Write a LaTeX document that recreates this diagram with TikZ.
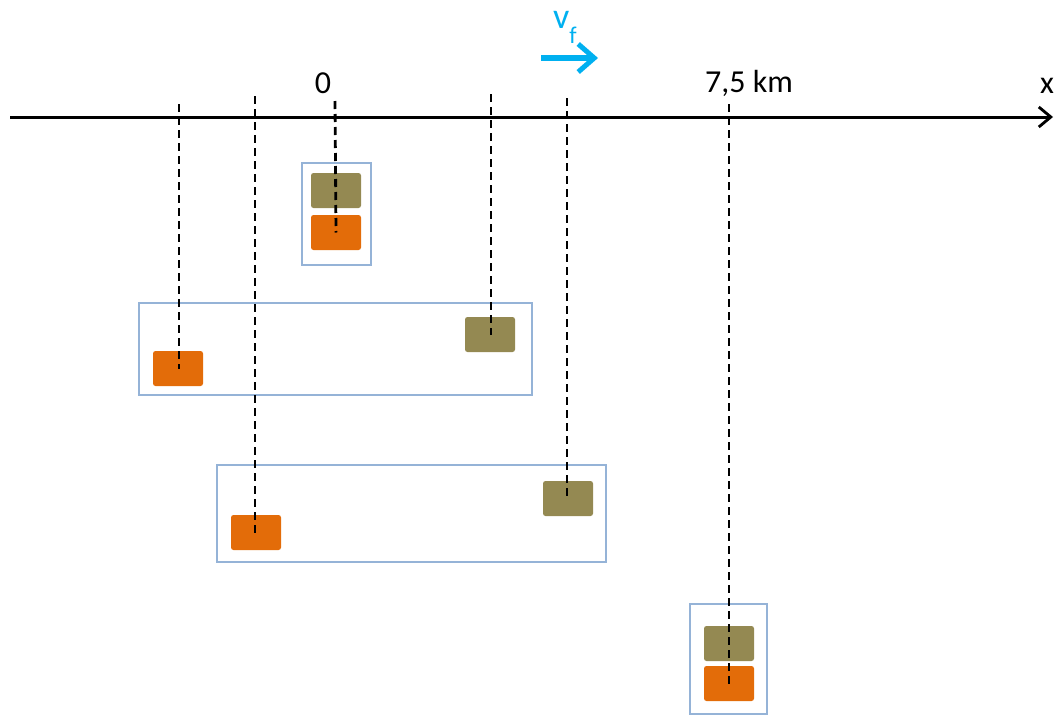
\documentclass[tikz,border=0pt]{standalone}
\usepackage{fontspec}
\setmainfont{Carlito}
\usetikzlibrary{arrows.meta}
\definecolor{olivebox}{RGB}{148,137,82}
\definecolor{orangebox}{RGB}{227,108,9}
\definecolor{groupblue}{RGB}{149,179,215}
\definecolor{vcyan}{RGB}{0,176,240}
\tikzset{
  car/.style={minimum width=50pt,minimum height=35pt,rounded corners=2.5pt,inner sep=0pt,draw=none},
  olivecar/.style={car,fill=olivebox},
  orangecar/.style={car,fill=orangebox},
  group/.style={draw=groupblue,line width=2.5pt,inner sep=0pt},
  proj/.style={black,line width=2.8pt,dash pattern=on 8pt off 5pt},
  lbl/.style={font=\fontsize{32}{36}\selectfont,inner sep=0pt}
}
\begin{document}
\begin{tikzpicture}[x=1pt,y=-1pt]
\useasboundingbox (0,0) rectangle (1054,715);
% groups
\node[group,minimum width=69pt,minimum height=102pt] (gA) at (336.5,214) {};
\node[group,minimum width=393pt,minimum height=92pt] (gB) at (335.5,349) {};
\node[group,minimum width=389pt,minimum height=97pt] (gC) at (411.5,513.5) {};
\node[group,minimum width=77pt,minimum height=110pt] (gD) at (728.5,659) {};
% cars
\node[olivecar] (a1) at (336,190.5) {};
\node[orangecar] (a2) at (336,232.5) {};
\node[orangecar] (b1) at (178,368.5) {};
\node[olivecar] (b2) at (490,334.5) {};
\node[orangecar] (c1) at (256,532.5) {};
\node[olivecar] (c2) at (568,498.5) {};
\node[olivecar] (d1) at (729,643.5) {};
\node[orangecar] (d2) at (729,683.5) {};
% axis
\coordinate (xs) at (10,117);
\coordinate (xe) at (1053,117);
\draw[line width=3pt,-{Straight Barb[length=12pt,width=20pt,line width=2.8pt]}] (xs) -- (xe);
\node[lbl] (xl) at (1047,86) {x};
\node[lbl] (zero) at (323,83) {0};
\node[lbl] (km) at (749,83) {7,5 km};
% velocity
\coordinate (vs) at (541,58);
\coordinate (ve) at (598,58);
\draw[vcyan,line width=5.5pt,-{Straight Barb[length=16pt,width=28pt,line width=5pt]}] (vs) -- (ve);
\node[text=vcyan,inner sep=0pt,anchor=base west,font=\fontsize{36}{40}\selectfont] (vf) at (553,28) {v\raisebox{-0.42em}{\fontsize{24}{26}\selectfont f}};
% projection lines
\coordinate (p1) at (335,101);
\coordinate (p2) at (179,104);
\coordinate (p3) at (491,94);
\coordinate (p4) at (255,96);
\coordinate (p5) at (567,98);
\coordinate (p6) at (729,104);
\draw[proj] (p1) -- (a2.center);
\draw[proj] (p2) -- (b1.center -| p2);
\draw[proj] (p3) -- (b2.center -| p3);
\draw[proj] (p4) -- (c1.center -| p4);
\draw[proj] (p5) -- (c2.center -| p5);
\draw[proj] (p6) -- (d2.center);
\end{tikzpicture}
\end{document}
